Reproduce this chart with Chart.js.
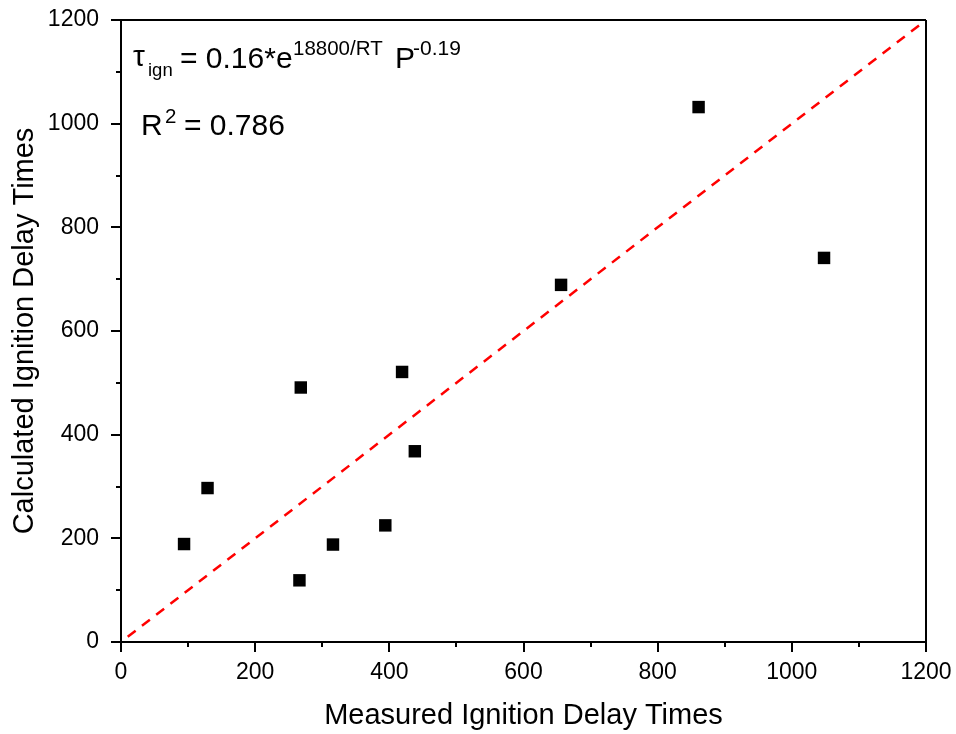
<!DOCTYPE html>
<html lang="en">
<head>
<meta charset="UTF-8">
<title>Ignition Delay Times</title>
<script src="https://cdn.jsdelivr.net/npm/chart.js@4.4.1/dist/chart.umd.min.js"></script>
<style>
  html, body { margin: 0; padding: 0; background: #fff; }
  #wrap { width: 956px; height: 734px; }
</style>
</head>
<body>
<div id="wrap"><canvas id="chart" width="956" height="734"></canvas></div>
<script>
// measured vs calculated ignition delay times
var measured   = [94, 129, 266, 268, 316, 394, 419, 438, 656, 861, 1048];
var calculated = [189, 297, 119, 491, 188, 225, 521, 368, 689, 1032, 741];
// y = x reference line
var lineX = [10, 1200];
var lineY = [10, 1200];
var axisMin = 0, axisMax = 1200, minorStep = 100, majorStep = 200;

var FONT = "'Liberation Sans', Arial, Helvetica, sans-serif";

var points = measured.map(function (m, i) { return {x: m, y: calculated[i]}; });
var refLine = lineX.map(function (v, i) { return {x: v, y: lineY[i]}; });

// frame + outward ticks (major long, minor short)
var framePlugin = {
  id: 'frame',
  afterDraw: function (chart) {
    var ctx = chart.ctx, a = chart.chartArea;
    var xs = chart.scales.x, ys = chart.scales.y;
    ctx.save();
    ctx.strokeStyle = '#000';
    ctx.lineWidth = 2;
    ctx.beginPath();
    ctx.moveTo(a.left, a.top); ctx.lineTo(a.right, a.top);
    ctx.moveTo(a.right, a.top); ctx.lineTo(a.right, a.bottom);
    ctx.moveTo(a.left, a.top); ctx.lineTo(a.left, a.bottom);
    ctx.moveTo(a.left - 1, a.bottom); ctx.lineTo(a.right + 1, a.bottom);
    ctx.stroke();
    ctx.beginPath();
    xs.ticks.forEach(function (t) {
      var len = (t.value % majorStep === 0) ? 10 : 5;
      var px = Math.round(xs.getPixelForValue(t.value));
      ctx.moveTo(px, a.bottom); ctx.lineTo(px, a.bottom + len);
    });
    ys.ticks.forEach(function (t) {
      var len = (t.value % majorStep === 0) ? 10 : 5;
      var py = Math.round(ys.getPixelForValue(t.value));
      ctx.moveTo(a.left, py); ctx.lineTo(a.left - len, py);
    });
    ctx.stroke();

    // fit annotation
    ctx.fillStyle = '#000';
    ctx.textBaseline = 'alphabetic';
    ctx.textAlign = 'left';
    ctx.font = '30px ' + FONT;
    ctx.fillText('\u03C4', 133, 66);
    ctx.font = '18.5px ' + FONT;
    ctx.fillText('ign', 148, 76);
    ctx.font = '30px ' + FONT;
    ctx.fillText('= 0.16*e', 180, 68);
    ctx.font = '20.5px ' + FONT;
    ctx.fillText('18800/RT', 293, 55);
    ctx.font = '30px ' + FONT;
    ctx.fillText('P', 395, 68);
    ctx.font = '21px ' + FONT;
    ctx.fillText('-0.19', 413, 55);

    ctx.font = '30px ' + FONT;
    ctx.fillText('R', 141, 135);
    ctx.font = '20.5px ' + FONT;
    ctx.fillText('2', 165, 123);
    ctx.font = '30px ' + FONT;
    ctx.fillText('= 0.786', 184, 135);
    ctx.restore();
  }
};

new Chart(document.getElementById('chart'), {
  type: 'scatter',
  data: {
    datasets: [
      {
        label: 'y = x',
        data: refLine,
        showLine: true,
        borderColor: '#ff0000',
        borderWidth: 2.5,
        borderDash: [10, 8],
        pointRadius: 0,
        fill: false
      },
      {
        label: 'Data',
        data: points,
        pointStyle: 'rect',
        pointRadius: 8.8,
        pointHoverRadius: 8.8,
        backgroundColor: '#000',
        borderColor: '#000',
        borderWidth: 0
      }
    ]
  },
  options: {
    responsive: false,
    animation: false,
    events: [],
    layout: { padding: { top: 20, right: 30, left: 0, bottom: 0 } },
    plugins: { legend: { display: false }, tooltip: { enabled: false } },
    scales: {
      x: {
        type: 'linear',
        min: axisMin, max: axisMax,
        afterFit: function (s) { s.height = 92; s.paddingLeft = 0; s.paddingRight = 0; },
        border: { display: false },
        grid: { drawOnChartArea: false, drawTicks: true, tickLength: 8, tickColor: 'rgba(0,0,0,0)' },
        ticks: {
          stepSize: minorStep,
          padding: 9,
          color: '#000',
          maxRotation: 0,
          autoSkip: false,
          font: { family: FONT, size: 23 },
          callback: function (v) { return v % majorStep === 0 ? v : ''; }
        },
        title: {
          display: true,
          text: 'Measured Ignition Delay Times',
          color: '#000',
          font: { family: FONT, size: 29 },
          padding: { top: 0, bottom: 1 }
        }
      },
      y: {
        type: 'linear',
        min: axisMin, max: axisMax,
        afterFit: function (s) { s.width = 121; s.paddingTop = 0; s.paddingBottom = 0; },
        border: { display: false },
        grid: { drawOnChartArea: false, drawTicks: true, tickLength: 8, tickColor: 'rgba(0,0,0,0)' },
        ticks: {
          stepSize: minorStep,
          padding: 14,
          color: '#000',
          autoSkip: false,
          font: { family: FONT, size: 23 },
          callback: function (v) { return v % majorStep === 0 ? v : ''; }
        },
        title: {
          display: true,
          text: 'Calculated Ignition Delay Times',
          color: '#000',
          font: { family: FONT, size: 29 },
          padding: { top: 8, bottom: 0 }
        }
      }
    }
  },
  plugins: [framePlugin]
});
</script>
</body>
</html>
